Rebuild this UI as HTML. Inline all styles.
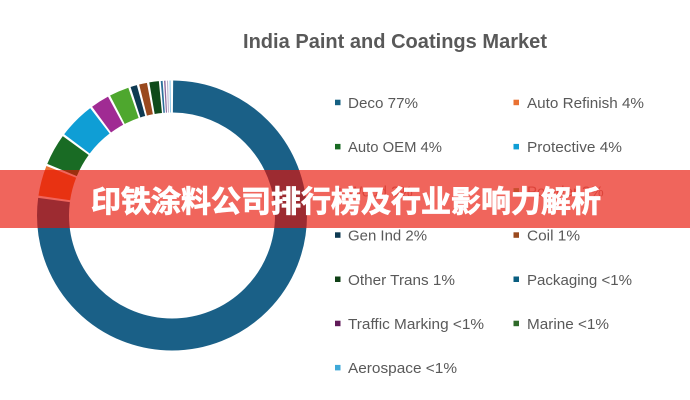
<!DOCTYPE html>
<html>
<head>
<meta charset="utf-8">
<style>
  html, body { margin: 0; padding: 0; background: #ffffff; }
  body { width: 690px; height: 400px; overflow: hidden; }
  svg { display: block; }
  .lg { font-family: "Liberation Sans", sans-serif; font-size: 15px; fill: #595959; }
</style>
</head>
<body>
<svg width="690" height="400" viewBox="0 0 690 400" xmlns="http://www.w3.org/2000/svg">
  <rect x="0" y="0" width="690" height="400" fill="#ffffff"/>

  <!-- Title -->
  <text x="243" y="48" font-family="Liberation Sans, sans-serif" font-weight="bold" font-size="20" fill="#595959" textLength="304" lengthAdjust="spacingAndGlyphs">India Paint and Coatings Market</text>

  <!-- Donut (pathLength 360 => dash units in degrees) -->
  <g transform="rotate(-90 172 215.5)" fill="none" stroke-width="32">
    <circle cx="172" cy="215.5" r="119" pathLength="360" stroke="#1a6087" stroke-dasharray="277 360" stroke-dashoffset="-0.5"/>
    <circle cx="172" cy="215.5" r="119" pathLength="360" stroke="#e97132" stroke-dasharray="13 360" stroke-dashoffset="-278.5"/>
    <circle cx="172" cy="215.5" r="119" pathLength="360" stroke="#196b24" stroke-dasharray="13.5 360" stroke-dashoffset="-292.5"/>
    <circle cx="172" cy="215.5" r="119" pathLength="360" stroke="#0f9ed5" stroke-dasharray="15.7 360" stroke-dashoffset="-307"/>
    <circle cx="172" cy="215.5" r="119" pathLength="360" stroke="#a02b93" stroke-dasharray="8 360" stroke-dashoffset="-323.7"/>
    <circle cx="172" cy="215.5" r="119" pathLength="360" stroke="#4ea72e" stroke-dasharray="8.4 360" stroke-dashoffset="-332.7"/>
    <circle cx="172" cy="215.5" r="119" pathLength="360" stroke="#0e3a52" stroke-dasharray="2.8 360" stroke-dashoffset="-342.1"/>
    <circle cx="172" cy="215.5" r="119" pathLength="360" stroke="#9a4a1e" stroke-dasharray="3.4 360" stroke-dashoffset="-345.9"/>
    <circle cx="172" cy="215.5" r="119" pathLength="360" stroke="#0f4a1a" stroke-dasharray="4.1 360" stroke-dashoffset="-350.3"/>
    <circle cx="172" cy="215.5" r="119" pathLength="360" stroke="#2b6f99" stroke-dasharray="0.8 360" stroke-dashoffset="-355.2"/>
    <circle cx="172" cy="215.5" r="119" pathLength="360" stroke="#8e6a9e" stroke-dasharray="0.6 360" stroke-dashoffset="-356.6"/>
    <circle cx="172" cy="215.5" r="119" pathLength="360" stroke="#b8b0cc" stroke-dasharray="0.5 360" stroke-dashoffset="-357.8"/>
    <circle cx="172" cy="215.5" r="119" pathLength="360" stroke="#8ac5e6" stroke-dasharray="0.5 360" stroke-dashoffset="-358.9"/>
  </g>

  <!-- Legend -->
  <g>
    <rect x="335" y="99.7" width="5.5" height="5.5" fill="#156082"/>
    <text class="lg" x="348" y="108" textLength="70" lengthAdjust="spacingAndGlyphs">Deco 77%</text>
    <rect x="513.5" y="99.7" width="5.5" height="5.5" fill="#e97132"/>
    <text class="lg" x="527" y="108" textLength="117" lengthAdjust="spacingAndGlyphs">Auto Refinish 4%</text>

    <rect x="335" y="143.9" width="5.5" height="5.5" fill="#196b24"/>
    <text class="lg" x="348" y="152" textLength="94" lengthAdjust="spacingAndGlyphs">Auto OEM 4%</text>
    <rect x="513.5" y="143.9" width="5.5" height="5.5" fill="#0f9ed5"/>
    <text class="lg" x="527" y="152" textLength="95" lengthAdjust="spacingAndGlyphs">Protective 4%</text>

    <rect x="335" y="188.1" width="5.5" height="5.5" fill="#c080b8"/>
    <text x="348" y="196.4" font-family="Liberation Sans, sans-serif" font-size="15" fill="#c8a0a0">Wood 3%</text>
    <rect x="513.5" y="188.1" width="5.5" height="5.5" fill="#90c080"/>
    <text x="527" y="196.4" font-family="Liberation Sans, sans-serif" font-size="15" fill="#c8a0a0">Powder 3%</text>

    <rect x="335" y="232.3" width="5.5" height="5.5" fill="#0e3a52"/>
    <text class="lg" x="348" y="240.6" textLength="79" lengthAdjust="spacingAndGlyphs">Gen Ind 2%</text>
    <rect x="513.5" y="232.3" width="5.5" height="5.5" fill="#9a4a1e"/>
    <text class="lg" x="527" y="240.6" textLength="53" lengthAdjust="spacingAndGlyphs">Coil 1%</text>

    <rect x="335" y="276.5" width="5.5" height="5.5" fill="#0f4016"/>
    <text class="lg" x="348" y="284.8" textLength="107" lengthAdjust="spacingAndGlyphs">Other Trans 1%</text>
    <rect x="513.5" y="276.5" width="5.5" height="5.5" fill="#0a5e80"/>
    <text class="lg" x="527" y="284.8" textLength="105" lengthAdjust="spacingAndGlyphs">Packaging &lt;1%</text>

    <rect x="335" y="320.7" width="5.5" height="5.5" fill="#601a58"/>
    <text class="lg" x="348" y="329" textLength="136" lengthAdjust="spacingAndGlyphs">Traffic Marking &lt;1%</text>
    <rect x="513.5" y="320.7" width="5.5" height="5.5" fill="#2f6a2a"/>
    <text class="lg" x="527" y="329" textLength="82" lengthAdjust="spacingAndGlyphs">Marine &lt;1%</text>

    <rect x="335" y="364.9" width="5.5" height="5.5" fill="#3fa9d8"/>
    <text class="lg" x="348" y="373.2" textLength="109" lengthAdjust="spacingAndGlyphs">Aerospace &lt;1%</text>
  </g>

  <!-- Banner overlay -->
  <rect x="0" y="170" width="690" height="58" fill="rgb(232,14,0)" fill-opacity="0.64"/>
  <text x="91" y="212" font-family="Liberation Sans, Noto Sans CJK SC, sans-serif" font-weight="bold" font-size="30" fill="#ffffff" stroke="#ffffff" stroke-width="0.8" textLength="510" lengthAdjust="spacingAndGlyphs">印铁涂料公司排行榜及行业影响力解析</text>
</svg>
</body>
</html>
